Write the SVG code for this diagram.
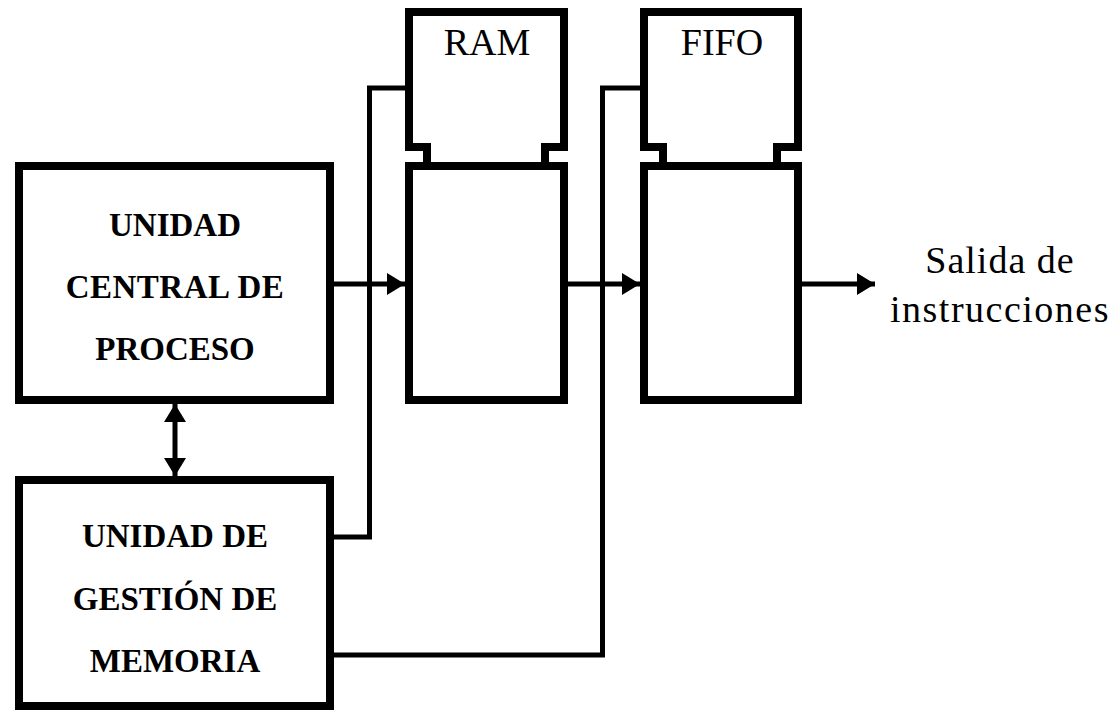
<svg xmlns="http://www.w3.org/2000/svg" width="1115" height="712" viewBox="0 0 1115 712">
<style>
.box{fill:#fff;stroke:#000;stroke-width:8;stroke-linejoin:miter}
.mem{fill:none;stroke:#000;stroke-width:8;stroke-linejoin:miter}
.wire{fill:none;stroke:#000;stroke-width:5;stroke-linejoin:miter}
.bt{font-family:"Liberation Serif",serif;font-weight:bold;font-size:33px;text-anchor:middle;fill:#000}
.rt{font-family:"Liberation Serif",serif;font-size:38px;text-anchor:middle;fill:#000}
</style>
<defs>
<marker id="ah" markerUnits="userSpaceOnUse" markerWidth="18" markerHeight="22" refX="18" refY="11" orient="auto-start-reverse">
<path d="M0,0 L18,11 L0,22 z" fill="#000"/>
</marker>
</defs>
<rect width="1115" height="712" fill="#fff"/>
<g id="connectors">
<line class="wire" x1="334" y1="284" x2="405" y2="284" marker-end="url(#ah)"/>
<line class="wire" x1="568" y1="284" x2="640" y2="284" marker-end="url(#ah)"/>
<line class="wire" x1="802" y1="284" x2="875" y2="284" marker-end="url(#ah)"/>
<line class="wire" x1="175" y1="404" x2="175" y2="476" marker-start="url(#ah)" marker-end="url(#ah)"/>
<polyline class="wire" points="334,537 369.5,537 369.5,88 409,88"/>
<polyline class="wire" points="334,655 602.5,655 602.5,88 644,88"/>
</g>
<g id="cpu">
<rect class="box" x="19" y="166" width="311" height="234"/>
<text class="bt" x="175" y="236">UNIDAD</text>
<text class="bt" x="175" y="298" letter-spacing="0.5">CENTRAL DE</text>
<text class="bt" x="175" y="360">PROCESO</text>
</g>
<g id="mmu">
<rect class="box" x="19" y="480" width="311" height="226"/>
<text class="bt" x="175" y="547">UNIDAD DE</text>
<text class="bt" x="175" y="610">GESTIÓN DE</text>
<text class="bt" x="175" y="672">MEMORIA</text>
</g>
<g id="ram">
<path class="mem" d="M427,166 V147 H409 V12 H564 V147 H545 V166"/>
<text class="rt" x="487" y="55">RAM</text>
<rect class="box" x="409" y="166" width="155" height="234"/>
</g>
<g id="fifo">
<path class="mem" d="M663,166 V147 H644 V12 H798 V147 H777 V166"/>
<text class="rt" x="722" y="55">FIFO</text>
<rect class="box" x="644" y="166" width="154" height="234"/>
</g>
<g id="output">
<text class="rt" x="1000" y="273" letter-spacing="1">Salida de</text>
<text class="rt" x="1000" y="322" letter-spacing="1.5">instrucciones</text>
</g>
</svg>
